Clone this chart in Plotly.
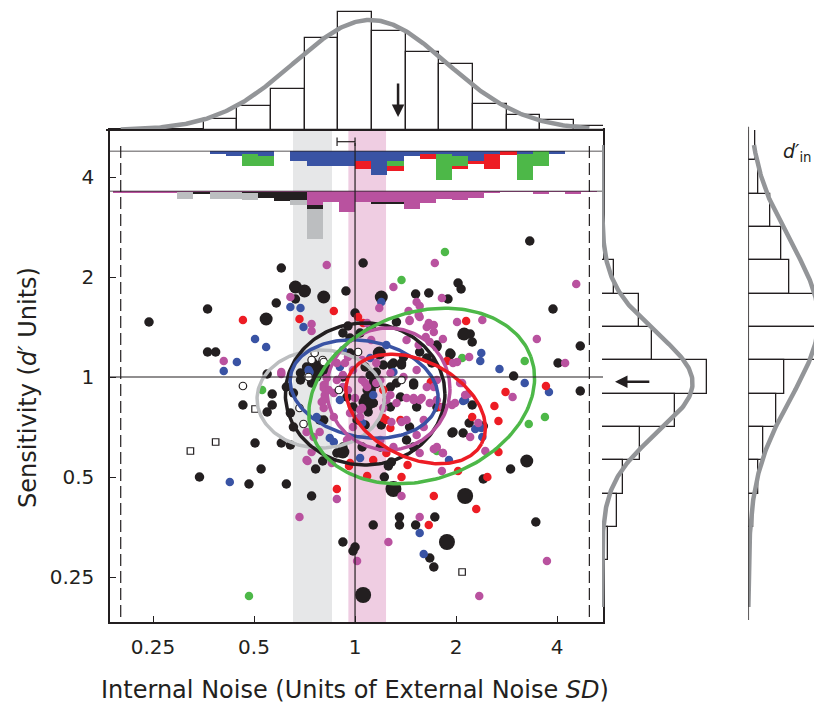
import numpy as np
import plotly.graph_objects as go

# The page body adds an 8px margin, so the figure is laid out in reference pixels shifted by OFF.
REF_W, REF_H = 822, 705
OFF = 8
W, H = REF_W - OFF, REF_H - OFF
INK = '#231f20'
BLUE = '#3953a4'
GREEN = '#4db848'
RED = '#ed1c24'
MAG = '#b9529f'
LGRAY = '#bcbec0'
CURVE = '#939598'
FONT = 'DejaVu Sans'


def fx(p):
    return min(1.0, max(0.0, (p - OFF) / W))


def fy(p):
    return min(1.0, max(0.0, 1 - (p - OFF) / H))


# ---------------- tick labels (axes are in log2 units) ----------------
tick_values = [0.25, 0.5, 1, 2, 4]
tick_labels = ['0.25', '0.5', '1', '2', '4']

# ---------------- scatter data: log2(internal noise), log2(d') ----------------
black_lx = [-2.04, -1.46, -0.73, -0.59, -0.78, -0.09, 0.0, -1.46, -1.38, -0.87, -0.82, -1.11, -0.82,
            1.73, 0.08, 1.02, 1.05, 0.73, 0.60, 0.92, 1.96, 2.23, 1.14, 1.16, 0.81, 0.95, 2.01, 1.57, 2.23, 1.16, 0.76,
            -0.87, -0.99, -0.73, -0.64, -1.54, -1.05, -0.93, -0.68, -0.43, -0.39, -0.32, -0.12, 0.0, -0.02,
            1.13, 1.27, 0.96, 1.54, 1.27, 0.29, 0.33, 0.44, 0.44, 0.79, 0.60, 0.18, 0.74, 0.78, 1.79,
            -0.07, 0.16, 0.41, -0.12, -0.05, 0.05, 0.25, 0.48, 0.64, 0.81, 0.94, -0.64, -0.61, -0.42, -0.41,
            -0.38, -0.35, -0.28, -0.38, -0.35, -0.12, 0.10, 0.28, 0.38, 0.46, 0.41, 0.16, 0.10, 0.18, 0.10,
            -0.02, -0.08, 0.35, 0.58, 0.81, 0.51, 0.58, 0.36, 0.26, 0.54, 0.07, -0.45, -0.54, -0.18,
            -0.48, -0.54, -0.41, -0.43, -0.05, 0.36, 0.46, 0.15, 0.21, 0.12, 0.15, 0.08, 0.18, 0.13, 0.02,
            0.58, 0.35, 0.45, 0.71, 0.81, 0.94, 1.06, 0.97, 0.61, -0.68, -0.61, -0.31, -0.15, -0.12, 0.25, 1.07]
black_ly = [0.55, 0.68, 1.09, 0.78, 0.74, 0.86, 0.64, 0.25, 0.25, 0.03, -0.17, -0.28, -0.28,
            1.36, 1.14, 0.94, 0.88, 0.84, 0.83, 0.78, 0.68, 0.31, 0.43, 0.35, 0.31, 0.23, 0.14, 0.01, -0.14, -0.28, 0.14,
            -0.35, -0.66, -0.66, -0.68, -1.00, -1.07, -0.92, -1.07, -1.19, -0.92, -0.84, -1.65, -1.70, -1.74,
            -0.46, -0.49, -0.56, -0.92, -1.02, -1.00, -0.89, -1.40, -1.48, -1.40, -1.48, -1.48, -1.81, -1.90, -1.45,
            0.51, 0.50, 0.55, 0.44, 0.39, 0.44, 0.25, 0.20, 0.25, 0.32, 0.22, -0.36, -0.50, 0.15, 0.10,
            0.05, 0.12, 0.09, 0.0, -0.43, 0.0, 0.10, 0.12, 0.14, 0.12, -0.06, -0.13, -0.21, -0.26, -0.48,
            -0.30, -0.20, -0.30, -0.06, -0.30, -0.63, -0.70, -0.85, -0.48, -0.50, -0.70, 0.10, -0.03, -0.76,
            0.10, 0.04, 0.10, -0.06, 0.24, 0.12, 0.14, 0.02, 0.05, -0.13, -0.20, -0.25, -0.26, -0.35, -0.43,
            -0.08, -0.10, -0.20, 0.19, 0.30, 0.24, 0.42, -0.55, -0.30, -0.10, -0.16, -0.43, -0.76, -0.70, -0.70, -0.56]

black_big_lx = [-0.59, -0.50, -0.31, -0.88, 0.26, 1.08, -0.12, 1.70, 0.24, 0.12, -0.33, 0.20]
black_big_ly = [0.90, 0.86, 0.80, 0.58, 0.80, 0.43, -0.75, -0.84, 0.24, -0.28, 0.07, -0.05]

black_huge_lx = [0.08, 0.38, 1.09, 0.91]
black_huge_ly = [-2.18, -1.12, -1.19, -1.65]

magenta_lx = [-0.64, -0.28, -0.43, -0.43, -1.30, -0.73,
              0.79, 0.38, 0.86, 0.24, 0.61, 0.64, 0.53, 0.64, 0.54, 2.19, 1.80, 1.26, 1.01, 0.74, 0.87, 0.74,
              1.01, 1.13, 2.08, 1.56, 1.06, 1.12,
              -0.18, -0.55, -0.43, -0.47, 0.02, -0.35,
              1.22, 1.14, 1.29, 0.86, 0.78, 0.87, 0.46, 0.64, 0.33, 1.90, 1.23,
              0.12, 0.54, 0.63, 0.73, 0.16, -0.31, -0.26, -0.30, -0.21, -0.33, -0.31, -0.18, -0.12, -0.18,
              -0.07, 0.07, -0.02, 0.21, 0.35, 0.48, 0.25, 0.07, 0.12, 0.07, 0.05, -0.02, -0.05, -0.07, 0.35,
              0.41, 0.58, 0.66, 0.71, 0.74, 0.81, 0.96, 1.09, 0.61, 0.64, 0.38, 0.25, 0.46, 0.68, -0.08,
              -0.48, -0.23, 0.78, 0.70,
              -0.10, -0.12, -0.28, -0.31, -0.31, -0.21, 0.0, 0.05, 0.31, 0.28, 0.36, 0.51, 0.58, 0.64, 0.51,
              0.68, 0.61, 0.78, 0.81, 0.87, 0.71, 0.78, 0.51, 0.63, 0.97, 1.04, 0.99, 0.81, 0.87, -0.41,
              -0.48, 0.10, 0.21, -0.73]
magenta_ly = [0.80, 1.12, 0.53, 0.46, 0.16, 0.03,
              1.14, 0.90, 0.79, 0.69, 0.75, 0.71, 0.66, 0.60, 0.56, 0.93, 0.38, 0.57, 0.55, 0.52, 0.38, 0.35,
              0.15, 0.20, 0.14, -0.20, -0.06, -0.17,
              -1.22, -1.40, -0.75, -0.84, -1.84, -0.55,
              -0.46, -0.60, -0.74, -0.94, -0.72, -0.76, -1.19, -1.40, -1.65, -1.84, -2.19,
              0.54, 0.57, 0.62, 0.54, 0.37, -0.08, -0.13, -0.18, -0.16, -0.25, -0.31, -0.03, -0.10, 0.14,
              0.20, 0.17, 0.07, 0.14, 0.04, 0.0, -0.03, -0.03, -0.10, -0.31, -0.40, -0.50, -0.36, -0.13, -0.18,
              -0.26, -0.21, -0.21, -0.10, -0.26, -0.03, -0.28, -0.18, -0.58, -0.76, -0.70, -0.63, -0.45, -0.50, -0.63,
              -0.55, -0.86, 0.45, 0.40,
              0.14, 0.02, -0.01, -0.11, -0.23, -0.40, -0.21, -0.33, -0.23, -0.31, -0.45, -0.21, -0.23, -0.23, -0.43,
              -0.43, 0.07, -0.10, -0.23, -0.30, 0.50, 0.52, 0.37, 0.32, 0.14, -0.06, -0.26, -0.70, -0.76, -0.60,
              -0.83, -0.06, -0.06, 0.05]

blue_lx = [-0.64, -0.54, -0.51, -0.99, -0.88, -1.17, -1.30,
           0.26, 1.25, 1.24, 1.43, 1.68, 1.92, 1.07,
           -1.24, -0.21,
           1.19, 1.26, 0.93, 0.64, 0.68,
           0.31, -0.46, -0.38, -0.15, -0.12, 0.15, 0.38, 0.18, 0.07, 1.09, 0.05, -0.15, -0.45, 1.25, -0.25]
blue_ly = [0.70, 0.69, 0.50, 0.38, 0.30, 0.15, 0.06,
           0.75, 0.24, 0.16, 0.08, -0.06, -0.15, -0.24,
           -1.05, -0.65,
           -0.52, -0.60, -0.83, -1.56, -1.77,
           0.32, 0.07, -0.40, 0.10, 0.27, 0.19, 0.05, -0.18, -0.46, -0.23, -0.81, -0.23, 0.05, -0.51, -0.61]

red_lx = [-1.11, -0.55, -0.21, 0.03,
          1.10, 0.91, 1.89, 1.49, 1.38,
          -0.18, -0.06,
          1.42, 1.16, 1.42, 1.31, 1.02, 0.78, 1.20, 0.46, 0.12, 0.73,
          0.08, 0.28, 0.84, 0.31, 0.31, 0.35, 0.75, 0.52, 0.28, 0.45, 0.18, -0.05]
red_ly = [0.57, 0.58, 0.66, 0.60,
          0.56, 0.16, -0.09, -0.15, -0.29,
          -1.12, -0.89,
          -0.44, -0.40, -0.75, -1.00, -0.94, -1.19, -1.32, -1.00, -0.99, -1.48,
          0.54, -0.13, -0.30, -0.76, -0.43, -0.51, -0.05, -0.88, -0.41, -0.43, -0.83, -0.86]

green_lx = [-0.92, 0.89, 0.46, 1.06, 1.68, 1.88, 1.72, 0.81, -1.05]
green_ly = [-0.13, 1.25, 0.97, 0.19, 0.16, -0.40, -0.47, -0.74, -2.19]

open_circle_lx = [-1.11, -0.43, -0.32, -0.46, 0.03, 0.46, -0.55, -0.51, -0.31, -0.40, -0.16]
open_circle_ly = [-0.09, 0.17, 0.17, 0.0, 0.25, -0.03, -0.31, -0.47, 0.15, 0.24, -0.13]

open_square_lx = [-0.99, -1.38, -1.63, 1.06]
open_square_ly = [-0.32, -0.65, -0.74, -1.95]

# ---------------- ellipses: centre, semi-axes (log2 units), tilt (deg) ----------------
ell_names = ['gray', 'black', 'blue', 'magenta', 'green', 'red']
ell_colors = [LGRAY, INK, BLUE, MAG, GREEN, RED]
ell_cx = [-0.34, 0.10, 0.09, 0.33, 0.66, 0.60]
ell_cy = [-0.22, -0.17, -0.12, -0.12, -0.19, -0.32]
ell_a = [0.63, 0.79, 0.74, 0.61, 1.15, 0.74]
ell_b = [0.49, 0.71, 0.48, 0.61, 0.835, 0.48]
ell_tilt = [0, 0, -11, 0, 20, -28]

# ---------------- top marginal histogram (internal noise) ----------------
top_bin_lx = [-1.333, -1.0, -0.667, -0.333, 0.0, 0.333, 0.667, 1.0, 1.333, 1.667, 2.0, 2.333]
top_bin_pct = [2.9, 6.1, 10.4, 23.5, 30.0, 25.2, 19.9, 16.7, 6.7, 3.9, 2.5, 1.0]
top_fit = dict(mean=0.15, sd=0.76, peak=28.0)
top_arrow_lx = 0.426

# ---------------- right marginal histogram (d') ----------------
right_bin_ly = [1.0, 0.667, 0.333, 0.0, -0.333, -0.667, -1.0, -1.333, -1.667]
right_bin_pct = [3.1, 9.5, 12.7, 26.6, 18.5, 9.7, 5.3, 3.7, 1.4]
right_fit = dict(mean=-0.06, sd=0.50, peak=23.0)
right_arrow_ly = -0.047

# ---------------- far-right histogram (d'_in) ----------------
din_bin_ly = [2.333, 2.0, 1.667, 1.333, 1.0, 0.667, 0.333, 0.0, -0.333, -0.667, -1.0, -1.333]
din_bin_pct = [1.85, 2.5, 5.5, 8.5, 10.3, 20.3, 19.8, 9.1, 7.2, 3.8, 2.5, 1.3]
din_fit = dict(mean=0.57, sd=0.78, peak=17.8)

# ---------------- stacked strips of per-group noise histograms ----------------
strip_bin_lx = [-2.32, -2.16, -2.0, -1.84, -1.68, -1.52, -1.36, -1.2, -1.04, -0.88, -0.72, -0.56, -0.40,
                -0.24, -0.08, 0.08, 0.24, 0.40, 0.56, 0.72, 0.88, 1.04, 1.20, 1.36, 1.52, 1.68, 1.84,
                2.00, 2.16, 2.32]
strip_width = 0.16
upper_blue = [0, 0, 0, 0, 0, 0, 1, 2, 1.3, 2, 0, 4, 6, 6, 6, 4, 9.6, 4, 2, 1, 1.3, 2, 4, 1, 0, 1.3, 0, 1.3, 0, 0]
upper_green = [0, 0, 0, 0, 0, 0, 0, 0, 4.7, 4, 0, 0, 0, 0, 0, 0, 0, 2, 0, 0, 10.2, 4, 0, 0, 0, 10.2, 6, 0, 0, 0]
upper_red = [0, 0, 0, 0, 0, 0, 0, 0, 0, 0, 0, 0, 0, 0, 0, 3, 0, 2, 0, 2, 0, 1, 1.3, 6, 1.7, 0, 0, 0, 0, 0]
lower_magenta = [0.5, 0.5, 0.5, 0.5, 0.5, 0.5, 0.5, 0.5, 0.5, 0.5, 0.5, 0.5, 5.7, 4.4, 8.4, 4.4, 4.4, 4.7,
                 7.3, 4.7, 3.1, 3.7, 2.7, 0.8, 0.4, 0.4, 1.1, 0.4, 1.1, 0.4]
lower_black = [0, 0, 0, 0, 0, 0.8, 0, 0, 0.4, 2.1, 3.5, 3.0, 1.3, 0, 0, 0, 0.5, 0.5, 0, 0, 0, 0, 0, 0, 0,
               0, 0, 0, 0, 0]
lower_gray = [0, 0, 0, 0, 2.7, 0, 2.7, 2.7, 2.7, 0, 0, 2.0, 12, 0, 0, 0, 0, 0, 0, 0, 0, 0, 0, 0, 0, 0, 0,
              0, 0, 0]

# ---------------- shaded bands, reference lines, mean bar ----------------
gray_band_lx = [-0.614, -0.228]
pink_band_lx = [-0.066, 0.307]
dash_lx = [-2.32, 2.32]
dash_ly = [-2.40, 2.34]
mean_bar_lx = [-0.178, 0.0]
mean_bar_ly = 2.353

# =========================================================================
XR = [-2.426, 2.455]
YR = [-2.45, 2.47]
XD = [fx(110), fx(603)]
YD = [fy(622), fy(130)]
TOP_PX_PER_UNIT = 3.93

fig = go.Figure()

# scatter points
fig.add_trace(go.Scatter(x=black_lx, y=black_ly, mode='markers',
                         marker=dict(color=INK, size=9.5, line=dict(width=0)), hoverinfo='skip'))
fig.add_trace(go.Scatter(x=black_big_lx, y=black_big_ly, mode='markers',
                         marker=dict(color=INK, size=13, line=dict(width=0)), hoverinfo='skip'))
fig.add_trace(go.Scatter(x=black_huge_lx, y=black_huge_ly, mode='markers',
                         marker=dict(color=INK, size=16, line=dict(width=0)), hoverinfo='skip'))
for lx, ly, c in [(blue_lx, blue_ly, BLUE), (red_lx, red_ly, RED), (green_lx, green_ly, GREEN),
                  (magenta_lx, magenta_ly, MAG)]:
    fig.add_trace(go.Scatter(x=lx, y=ly, mode='markers',
                             marker=dict(color=c, size=8.5, line=dict(width=0)), hoverinfo='skip'))
fig.add_trace(go.Scatter(x=open_circle_lx, y=open_circle_ly, mode='markers',
                         marker=dict(color='white', size=7.5, line=dict(color=INK, width=1.2)),
                         hoverinfo='skip'))
fig.add_trace(go.Scatter(x=open_square_lx, y=open_square_ly, mode='markers',
                         marker=dict(symbol='square', color='white', size=6.5, line=dict(color=INK, width=1.2)),
                         hoverinfo='skip'))

# ellipses
t = np.linspace(0, 2 * np.pi, 200)
for cx, cy, a, b, ang, c in zip(ell_cx, ell_cy, ell_a, ell_b, ell_tilt, ell_colors):
    th = np.deg2rad(ang)
    ex = cx + a * np.cos(th) * np.cos(t) - b * np.sin(th) * np.sin(t)
    ey = cy + a * np.sin(th) * np.cos(t) + b * np.cos(th) * np.sin(t)
    fig.add_trace(go.Scatter(x=ex, y=ey, mode='lines', line=dict(color=c, width=3.5), hoverinfo='skip'))

# mean bar with caps
fig.add_trace(go.Scatter(x=mean_bar_lx, y=[mean_bar_ly] * 2, mode='lines+markers',
                         line=dict(color=INK, width=1.2),
                         marker=dict(symbol='line-ns', size=6, line=dict(color=INK, width=1.2)),
                         hoverinfo='skip'))

# top histogram
fig.add_trace(go.Bar(x=top_bin_lx, y=top_bin_pct, width=1 / 3, xaxis='x2', yaxis='y2',
                     marker=dict(color='white', line=dict(color=INK, width=1.3)), cliponaxis=False,
                     hoverinfo='skip'))
tx = np.linspace(-2.32, 2.32, 300)
fig.add_trace(go.Scatter(x=tx, y=top_fit['peak'] * np.exp(-0.5 * ((tx - top_fit['mean']) / top_fit['sd']) ** 2),
                         xaxis='x2', yaxis='y2', mode='lines', line=dict(color=CURVE, width=4.5),
                         hoverinfo='skip'))

# strips (stacked, hanging down)
for vals, c, ya in [(upper_blue, BLUE, 'y3'), (upper_green, GREEN, 'y3'), (upper_red, RED, 'y3'),
                    (lower_magenta, MAG, 'y4'), (lower_black, INK, 'y4'), (lower_gray, LGRAY, 'y4')]:
    fig.add_trace(go.Bar(x=strip_bin_lx, y=[-v for v in vals], width=strip_width,
                         xaxis='x3' if ya == 'y3' else 'x4', yaxis=ya,
                         marker=dict(color=c, line=dict(width=0)), hoverinfo='skip'))

# right histogram (d')
fig.add_trace(go.Bar(y=right_bin_ly, x=right_bin_pct, width=1 / 3, orientation='h', xaxis='x5', yaxis='y5',
                     marker=dict(color='white', line=dict(color=INK, width=1.3)), cliponaxis=False,
                     hoverinfo='skip'))
ry = np.linspace(-2.3, 2.32, 300)
fig.add_trace(go.Scatter(y=ry, x=right_fit['peak'] * np.exp(-0.5 * ((ry - right_fit['mean']) / right_fit['sd']) ** 2),
                         xaxis='x5', yaxis='y5', mode='lines', line=dict(color=CURVE, width=4.5),
                         hoverinfo='skip'))

# far right histogram (d'_in)
fig.add_trace(go.Bar(y=din_bin_ly, x=din_bin_pct, width=1 / 3, orientation='h', xaxis='x6', yaxis='y6',
                     marker=dict(color='white', line=dict(color=INK, width=1.3)), cliponaxis=False,
                     hoverinfo='skip'))
fig.add_trace(go.Scatter(y=ry, x=din_fit['peak'] * np.exp(-0.5 * ((ry - din_fit['mean']) / din_fit['sd']) ** 2),
                         xaxis='x6', yaxis='y6', mode='lines', line=dict(color=CURVE, width=4.5),
                         hoverinfo='skip'))

tickfont = dict(family=FONT, size=20, color=INK)
hidden = dict(visible=False, showgrid=False, zeroline=False)
top_dom = [fy(130), fy(8)]
top_range_max = (top_dom[1] - top_dom[0]) * H / TOP_PX_PER_UNIT
x6_dom = [fx(748.3), 1.0]
x6_range_max = (x6_dom[1] - x6_dom[0]) * W / 3.94
fig.update_layout(
    width=W, height=H, margin=dict(l=0, r=0, t=0, b=0),
    paper_bgcolor='white', plot_bgcolor='rgba(0,0,0,0)',
    showlegend=False, barmode='relative', bargap=0,
    font=dict(family=FONT, color=INK),
    xaxis=dict(domain=XD, range=XR, tickvals=list(np.log2(tick_values)), ticktext=tick_labels,
               ticks='inside', ticklen=6, tickwidth=1.3, tickcolor=INK, showline=True, mirror=True,
               linecolor=INK, linewidth=1.5, showgrid=False, zeroline=False, tickfont=tickfont,
               ticklabelstandoff=6),
    yaxis=dict(domain=YD, range=YR, tickvals=list(np.log2(tick_values)), ticktext=tick_labels,
               ticks='inside', ticklen=6, tickwidth=1.3, tickcolor=INK, showline=True, mirror=True,
               linecolor=INK, linewidth=1.5, showgrid=False, zeroline=False, tickfont=tickfont,
               ticklabelstandoff=10),
    xaxis2=dict(domain=XD, range=XR, anchor='y2', **hidden),
    yaxis2=dict(domain=top_dom, range=[0, top_range_max], anchor='x2', **hidden),
    xaxis3=dict(domain=XD, range=XR, anchor='y3', **hidden),
    yaxis3=dict(domain=[fy(190.7), fy(150.7)], range=[-16, 0], anchor='x3', **hidden),
    xaxis4=dict(domain=XD, range=XR, anchor='y4', **hidden),
    yaxis4=dict(domain=[fy(250.7), fy(190.7)], range=[-24, 0], anchor='x4', **hidden),
    xaxis5=dict(domain=[fx(602), fx(728)], range=[0, 32], anchor='y5', **hidden),
    yaxis5=dict(domain=YD, range=YR, anchor='x5', **hidden),
    xaxis6=dict(domain=x6_dom, range=[0, x6_range_max], anchor='y6', **hidden),
    yaxis6=dict(domain=YD, range=YR, anchor='x6', **hidden),
)

shapes = []
# shaded bands
for band, col in [(gray_band_lx, '#e6e7e8'), (pink_band_lx, '#efcde2')]:
    shapes.append(dict(type='rect', xref='x', yref='paper', x0=band[0], x1=band[1], y0=YD[0], y1=YD[1],
                       fillcolor=col, line=dict(width=0), layer='below'))
# reference lines
shapes.append(dict(type='line', xref='x', yref='y', x0=0, x1=0, y0=YR[0], y1=2.34,
                   line=dict(color=INK, width=1.2)))
shapes.append(dict(type='line', xref='x', yref='y', x0=XR[0], x1=XR[1], y0=0, y1=0,
                   line=dict(color=INK, width=1.2)))
for dx in dash_lx:
    shapes.append(dict(type='line', xref='x', yref='y', x0=dx, x1=dx, y0=dash_ly[0], y1=dash_ly[1],
                       line=dict(color=INK, width=1.2, dash='12px,5px')))
# strip baselines
for ya in ['y3', 'y4']:
    shapes.append(dict(type='line', xref='paper', yref=ya, x0=fx(110), x1=fx(602), y0=0, y1=0,
                       line=dict(color=INK, width=1.6)))
# top hist baseline
shapes.append(dict(type='line', xref='paper', yref='paper', x0=fx(106), x1=fx(605), y0=fy(130),
                   y1=fy(130), line=dict(color=INK, width=2)))
# far right baseline
shapes.append(dict(type='line', xref='x6', yref='paper', x0=0, x1=0, y0=fy(620), y1=fy(126.7),
                   line=dict(color=INK, width=1.5)))
fig.update_layout(shapes=shapes)

ann = []
ann.append(dict(x=top_arrow_lx, y=3.3, xref='x2', yref='y2', ax=top_arrow_lx, ay=12.2, axref='x2', ayref='y2',
                text='', showarrow=True, arrowhead=2, arrowsize=1, arrowwidth=2.5, arrowcolor=INK))
ann.append(dict(x=3.3, y=right_arrow_ly, xref='x5', yref='y5', ax=12.4, ay=right_arrow_ly, axref='x5',
                ayref='y5', text='', showarrow=True, arrowhead=2, arrowsize=1, arrowwidth=2.5, arrowcolor=INK))
ann.append(dict(x=fx(781), y=fy(153), xref='paper', yref='paper', xanchor='left', yanchor='middle',
                text='<i>d′</i><sub>in</sub>', showarrow=False, font=dict(family=FONT, size=19, color=INK)))
ann.append(dict(x=fx(355), y=fy(690), xref='paper', yref='paper', xanchor='center', yanchor='middle',
                text='Internal Noise (Units of External Noise <i>SD</i>)', showarrow=False,
                font=dict(family=FONT, size=24, color=INK)))
ann.append(dict(x=fx(28), y=fy(388), xref='paper', yref='paper', xanchor='center', yanchor='middle',
                text='Sensitivity (<i>d′</i> Units)', textangle=-90, showarrow=False,
                font=dict(family=FONT, size=24, color=INK)))
fig.update_layout(annotations=ann)

fig.write_html('out.html')
